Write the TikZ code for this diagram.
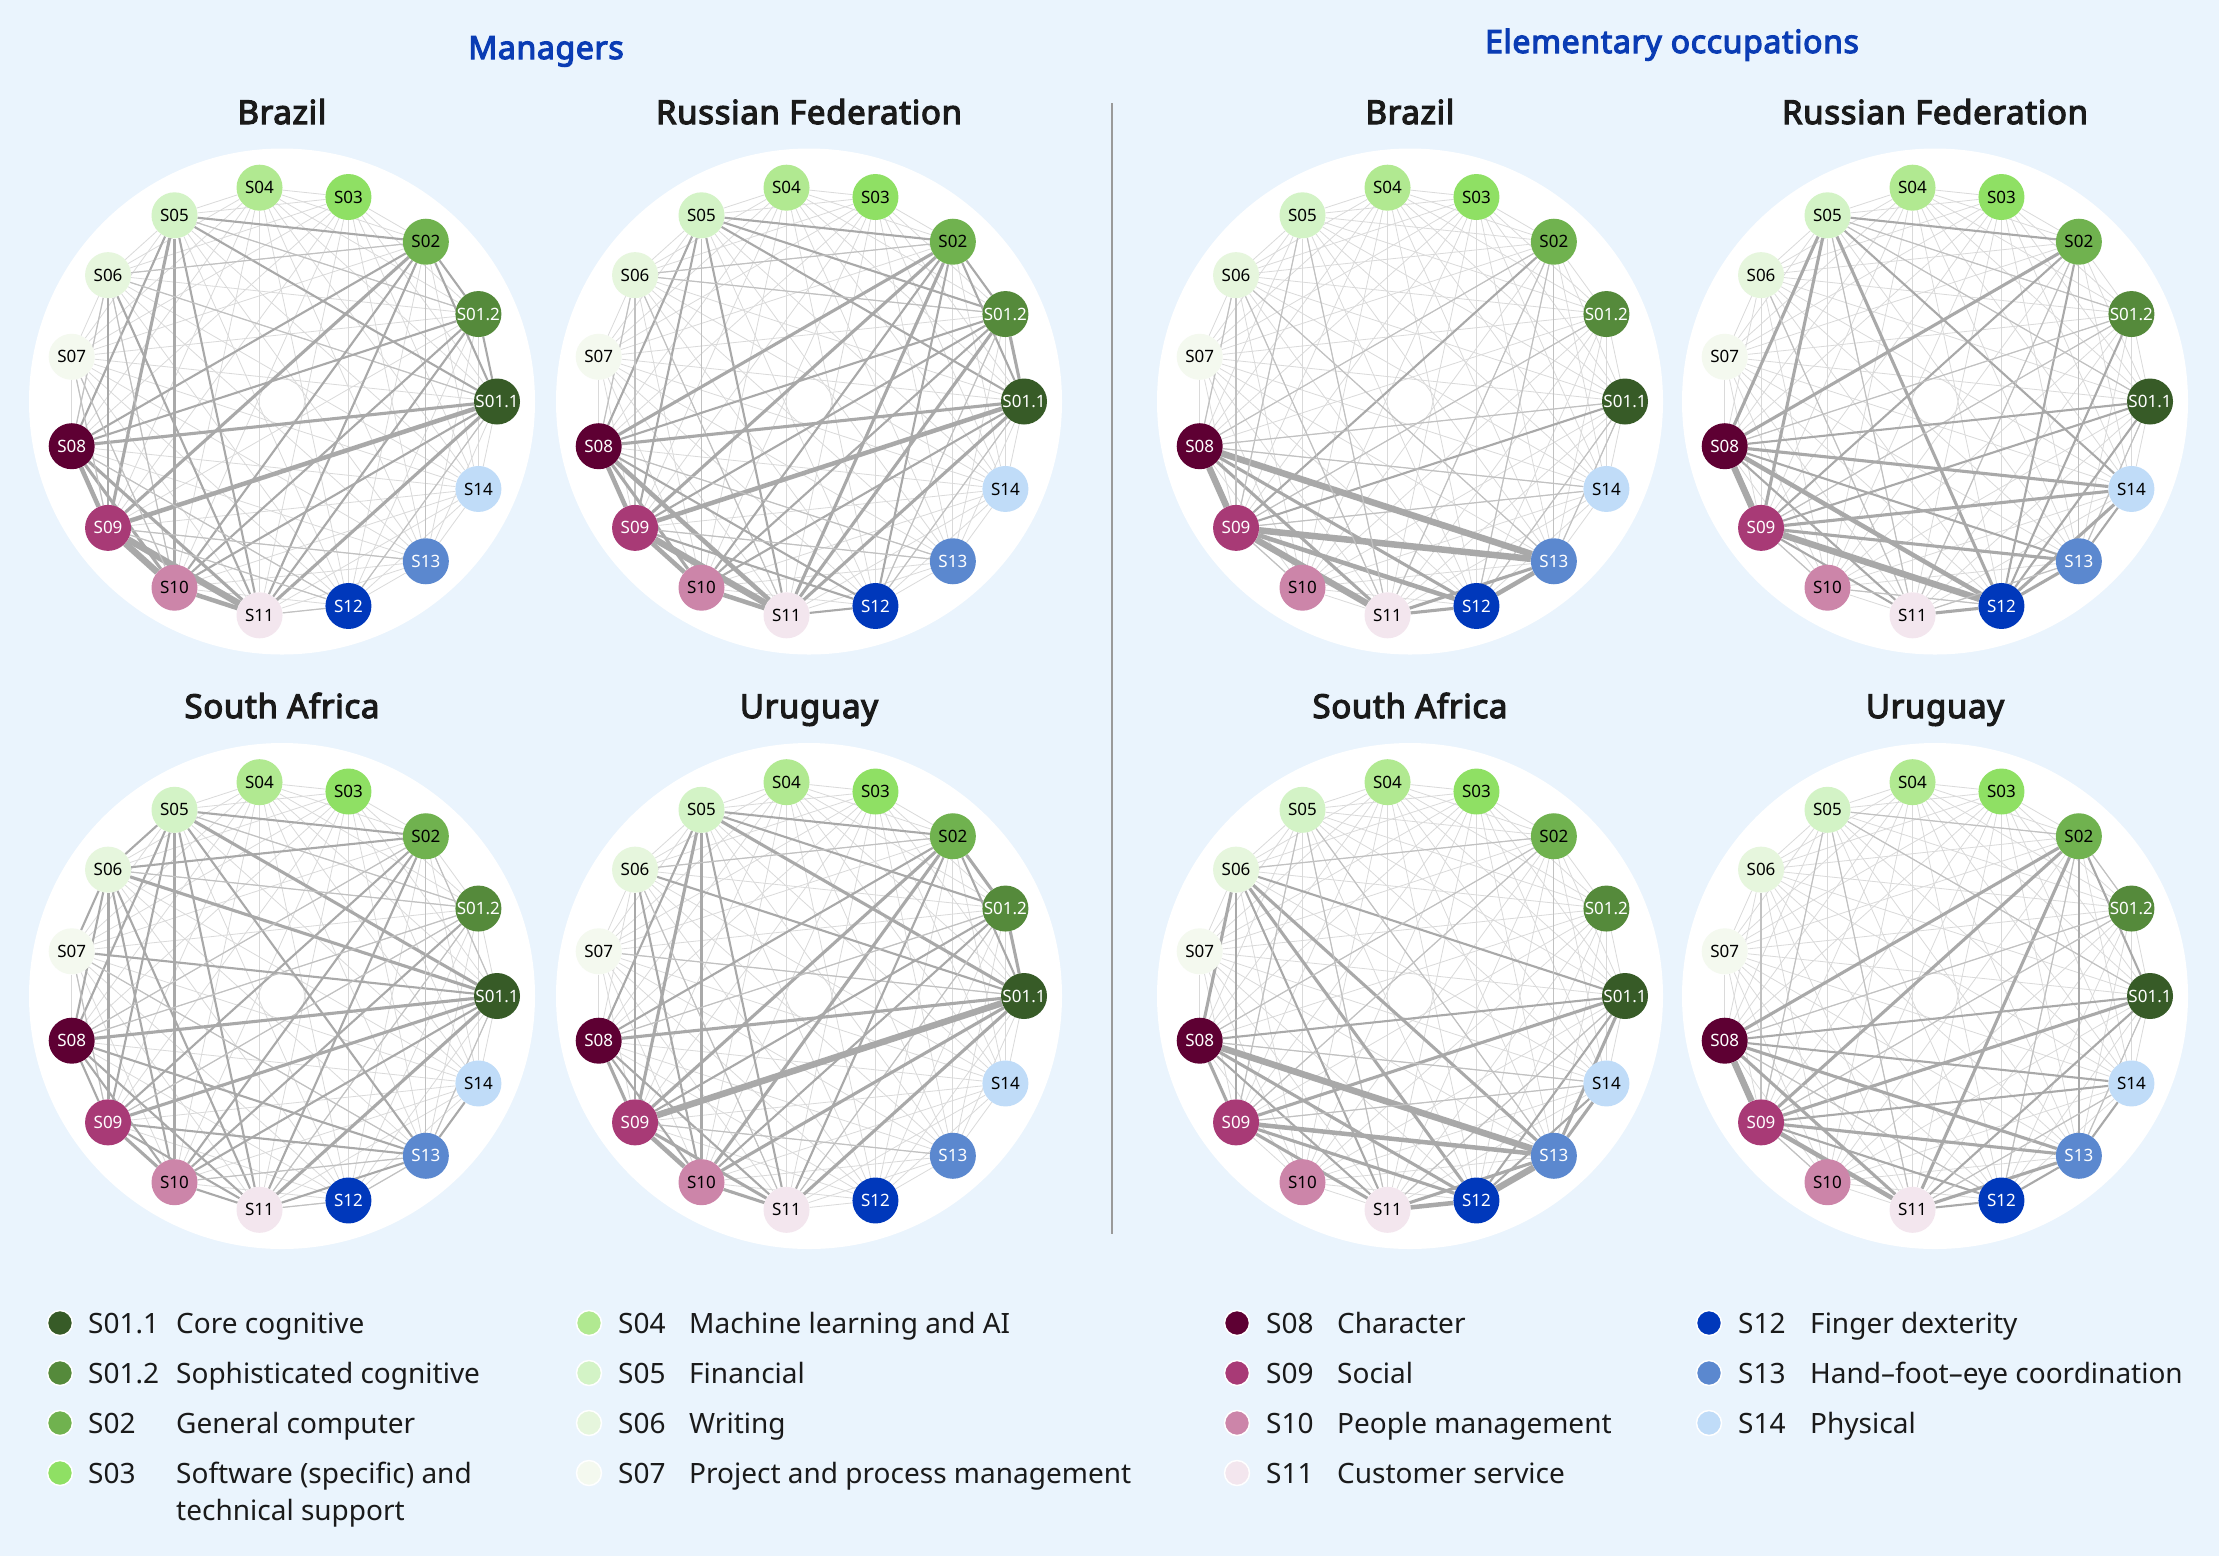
\documentclass[tikz,border=0pt]{standalone}
\usepackage{fontspec}
\setmainfont{Noto Sans}
\newfontfamily\titlefont{Noto Sans}[FakeBold=3.6, LetterSpace=2]
\usetikzlibrary{calc}
\pgfdeclarelayer{bg}
\pgfdeclarelayer{edges}
\pgfsetlayers{bg,edges,main}

\definecolor{bgc}{HTML}{EAF4FD}
\definecolor{edgec}{HTML}{A9A9A9}
\definecolor{basec}{HTML}{DADADA}
\definecolor{sepc}{HTML}{9A9A9A}
\definecolor{titleblue}{HTML}{0A3CB4}
\definecolor{darktext}{HTML}{1A1A1A}
\definecolor{ca}{HTML}{375B27}
\definecolor{cb}{HTML}{558A3B}
\definecolor{c02}{HTML}{70B24F}
\definecolor{c03}{HTML}{8FE064}
\definecolor{c04}{HTML}{B1E991}
\definecolor{c05}{HTML}{D3F3C6}
\definecolor{c06}{HTML}{E6F6DD}
\definecolor{c07}{HTML}{F4F9EF}
\definecolor{c08}{HTML}{5E0033}
\definecolor{c09}{HTML}{A83A76}
\definecolor{c10}{HTML}{CC85A9}
\definecolor{c11}{HTML}{F3E6EE}
\definecolor{c12}{HTML}{0038BB}
\definecolor{c13}{HTML}{5B88CF}
\definecolor{c14}{HTML}{C0DCF8}

\tikzset{
  skill/.style={circle, minimum size=46pt, inner sep=0pt, font=\fontsize{17}{18}\selectfont},
  baseedge/.style={draw=basec, line width=0.8pt},
  grouptitle/.style={anchor=base, inner sep=0pt, text=titleblue, font=\titlefont\fontsize{32}{38}\selectfont},
  paneltitle/.style={anchor=base, inner sep=0pt, text=darktext, font=\titlefont\fontsize{33}{38}\selectfont},
  legdot/.style={circle, minimum size=25pt, inner sep=0pt, draw=white, line width=1.5pt},
  legtext/.style={anchor=base west, inner sep=0pt, text=darktext, font=\fontsize{28}{34}\selectfont},
  sepline/.style={draw=sepc, line width=1.5pt},
}

\newcommand\nodelist{1/S01.1/ca/white,2/S01.2/cb/white,3/S02/c02/black,4/S03/c03/black,5/S04/c04/black,6/S05/c05/black,7/S06/c06/black,8/S07/c07/black,9/S08/c08/white,10/S09/c09/white,11/S10/c10/black,12/S11/c11/black,13/S12/c12/white,14/S13/c13/white,15/S14/c14/black}

\newcommand\netpanel[4]{%
  \begin{pgfonlayer}{bg}
    \fill[white] (#2,#3) circle[radius=253pt];
  \end{pgfonlayer}
  \foreach \i/\lab/\col/\tc in \nodelist {
    \node[skill, fill=\col, text=\tc] (#1n\i) at ({#2+215*cos((\i-1)*24)},{#3-215*sin((\i-1)*24)}) {\lab};
  }
  \begin{pgfonlayer}{edges}
    \foreach \a in {1,...,14} {
      \pgfmathtruncatemacro\s{\a+1}
      \foreach \b in {\s,...,15} { \draw[baseedge] (#1n\a) -- (#1n\b); }
    }
    \foreach \a/\b/\w in {#4} {
      \pgfmathsetmacro\lw{{0,1.2,2.1,3.1,4.5,6.5}[\w]}
      \pgfmathtruncatemacro\sh{\w==1 ? 72 : 100}
      \draw[draw=edgec!\sh!white, line width=\lw pt] (#1n\a) -- (#1n\b);
    }
  \end{pgfonlayer}
}

\newcommand\legitem[8]{% name, dot x, code x, text x, y, colour, code, text
  \node[legdot, fill=#6] (#1d) at (#2,#5) {};
  \node[legtext] (#1c) at (#3,#5+10) {#7};
  \node[legtext] (#1t) at (#4,#5+10) {#8};
}

\begin{document}
\begin{tikzpicture}[x=1pt, y=-1pt]
\begin{pgfonlayer}{bg}
  \fill[bgc] (0,0) rectangle (2219,1556);
\end{pgfonlayer}
\useasboundingbox (0,0) rectangle (2219,1556);

% group titles
\node[grouptitle] (tM) at (546,59) {Managers};
\node[grouptitle] (tE) at (1672,53) {Elementary occupations};

% panel titles
\node[paneltitle] (tA) at (282,124) {Brazil};
\node[paneltitle] (tB) at (809,124) {Russian Federation};
\node[paneltitle] (tC) at (1410,124) {Brazil};
\node[paneltitle] (tD) at (1935,124) {Russian Federation};
\node[paneltitle] (tE2) at (282,718) {South Africa};
\node[paneltitle] (tF) at (809,718) {Uruguay};
\node[paneltitle] (tG) at (1410,718) {South Africa};
\node[paneltitle] (tH) at (1935,718) {Uruguay};

% separator
\coordinate (sepT) at (1112,103);
\coordinate (sepB) at (1112,1234);
\draw[sepline] (sepT) -- (sepB);

% Managers, Brazil
\netpanel{A}{282}{401.5}{6/3/2, 6/2/1, 6/1/2, 6/9/2, 6/10/3, 6/11/2, 6/12/2, 7/10/2, 7/12/2, 7/11/1, 7/3/1, 7/1/1, 7/9/1, 3/10/3, 3/11/2, 3/12/2, 3/9/2, 3/14/1, 3/1/2, 3/2/2, 2/1/2, 2/9/2, 2/11/2, 2/12/2, 1/9/3, 1/10/4, 1/11/2, 1/12/3, 1/13/1, 9/10/4, 9/11/3, 9/12/3, 9/13/1, 10/11/5, 10/12/5, 11/12/4, 10/14/1, 10/13/1, 12/13/1, 8/10/1, 8/11/1}
% Managers, Russian Federation
\netpanel{B}{809}{401.5}{6/3/2, 6/2/2, 6/1/2, 6/10/2, 6/9/2, 6/11/1, 6/12/2, 7/3/1, 7/2/1, 7/10/1, 7/12/1, 7/9/1, 3/9/3, 3/10/3, 3/11/2, 3/12/3, 3/13/2, 3/2/2, 3/1/2, 2/1/3, 2/9/2, 2/10/2, 2/11/2, 2/12/3, 2/13/1, 1/9/3, 1/10/4, 1/11/2, 1/12/3, 1/13/1, 9/10/4, 9/11/3, 9/12/4, 9/13/2, 10/11/4, 10/12/5, 10/13/2, 11/12/4, 12/13/2, 10/14/1, 9/14/1}
% Elementary, Brazil
\netpanel{C}{1410}{401.5}{3/10/2, 3/9/1, 3/12/1, 3/13/1, 3/14/1, 2/10/1, 1/9/1, 1/10/2, 1/13/1, 1/14/1, 15/9/1, 15/10/1, 9/10/5, 9/14/5, 9/13/3, 9/12/3, 10/14/5, 10/13/4, 10/12/5, 10/11/1, 12/13/3, 13/14/4, 12/14/3, 7/10/1, 7/12/1, 7/14/1, 6/10/1, 6/12/1, 7/9/1}
% Elementary, Russian Federation
\netpanel{D}{1935}{401.5}{6/3/2, 6/9/3, 6/10/3, 6/13/3, 6/12/1, 6/15/2, 6/1/1, 6/2/1, 7/12/1, 3/9/3, 3/10/2, 3/13/2, 3/12/1, 3/14/1, 2/9/1, 2/10/1, 2/13/2, 1/9/2, 1/10/2, 1/13/2, 1/14/1, 9/10/5, 9/13/4, 9/15/3, 9/14/2, 9/12/2, 10/13/5, 10/14/3, 10/15/3, 10/12/2, 10/11/1, 12/13/3, 13/14/3, 13/15/3, 14/15/2, 12/14/1, 11/13/1}
% Managers, South Africa
\netpanel{E}{282}{996}{6/3/2, 6/2/1, 6/1/3, 6/7/2, 6/9/2, 6/10/2, 6/11/2, 6/12/2, 6/14/2, 7/3/2, 7/2/1, 7/1/3, 7/9/2, 7/10/3, 7/11/2, 7/12/2, 7/8/2, 8/1/2, 8/10/1, 8/14/1, 3/9/1, 3/10/2, 3/11/2, 3/12/2, 3/14/1, 3/1/1, 2/9/1, 2/10/1, 2/11/2, 2/12/1, 1/9/3, 1/10/3, 1/11/2, 1/12/3, 1/14/1, 9/10/2, 9/11/2, 9/12/2, 9/14/2, 10/11/3, 10/12/2, 10/14/2, 11/12/2, 12/14/2, 12/13/1, 11/14/1, 14/15/2, 13/14/1}
% Managers, Uruguay
\netpanel{F}{809}{996}{6/3/2, 6/2/2, 6/1/3, 6/9/2, 6/10/3, 6/11/3, 6/12/2, 7/3/1, 7/1/2, 7/10/2, 7/11/2, 7/12/1, 8/1/1, 3/2/3, 3/1/2, 3/9/2, 3/10/3, 3/11/3, 3/12/2, 2/1/3, 2/9/1, 2/10/2, 2/11/2, 2/12/1, 1/9/3, 1/10/5, 1/11/3, 1/12/3, 9/10/3, 9/11/2, 9/12/2, 10/11/4, 10/12/3, 11/12/3, 10/14/1}
% Elementary, South Africa
\netpanel{G}{1410}{996}{7/3/1, 7/1/2, 7/9/3, 7/10/2, 7/12/2, 7/13/3, 7/14/3, 6/10/1, 6/12/1, 6/14/1, 3/9/1, 3/10/1, 3/14/1, 1/9/2, 1/10/3, 1/13/2, 1/14/3, 1/12/1, 9/10/3, 9/14/5, 9/13/3, 9/12/2, 9/15/1, 10/14/4, 10/13/3, 10/12/3, 10/15/1, 12/13/4, 13/14/5, 12/14/3, 14/15/3, 13/15/2}
% Elementary, Uruguay
\netpanel{H}{1935}{996}{6/3/1, 6/1/1, 6/10/1, 6/12/1, 7/10/1, 3/9/3, 3/10/3, 3/12/3, 3/14/2, 3/1/2, 3/2/1, 3/13/1, 2/9/1, 2/10/1, 1/9/2, 1/10/3, 1/12/2, 1/14/1, 9/10/5, 9/12/3, 9/14/3, 9/15/2, 9/13/1, 10/12/4, 10/14/3, 10/15/2, 10/13/2, 10/11/1, 12/14/3, 12/13/2, 13/14/2, 14/15/2, 12/15/1}

% legend
\legitem{La}{60}{88}{176}{1323}{ca}{S01.1}{Core cognitive}
\legitem{Lb}{60}{88}{176}{1373}{cb}{S01.2}{Sophisticated cognitive}
\legitem{Lc}{60}{88}{176}{1423}{c02}{S02}{General computer}
\legitem{Ld}{60}{88}{176}{1473}{c03}{S03}{Software (specific) and}
\node[legtext] (Ldt2) at (176,1520) {technical support};
\legitem{Le}{589}{618}{689}{1323}{c04}{S04}{Machine learning and AI}
\legitem{Lf}{589}{618}{689}{1373}{c05}{S05}{Financial}
\legitem{Lg}{589}{618}{689}{1423}{c06}{S06}{Writing}
\legitem{Lh}{589}{618}{689}{1473}{c07}{S07}{Project and process management}
\legitem{Li}{1237}{1266}{1337}{1323}{c08}{S08}{Character}
\legitem{Lj}{1237}{1266}{1337}{1373}{c09}{S09}{Social}
\legitem{Lk}{1237}{1266}{1337}{1423}{c10}{S10}{People management}
\legitem{Ll}{1237}{1266}{1337}{1473}{c11}{S11}{Customer service}
\legitem{Lm}{1709}{1738}{1810}{1323}{c12}{S12}{Finger dexterity}
\legitem{Ln}{1709}{1738}{1810}{1373}{c13}{S13}{Hand–foot–eye coordination}
\legitem{Lo}{1709}{1738}{1810}{1423}{c14}{S14}{Physical}
\end{tikzpicture}
\end{document}
